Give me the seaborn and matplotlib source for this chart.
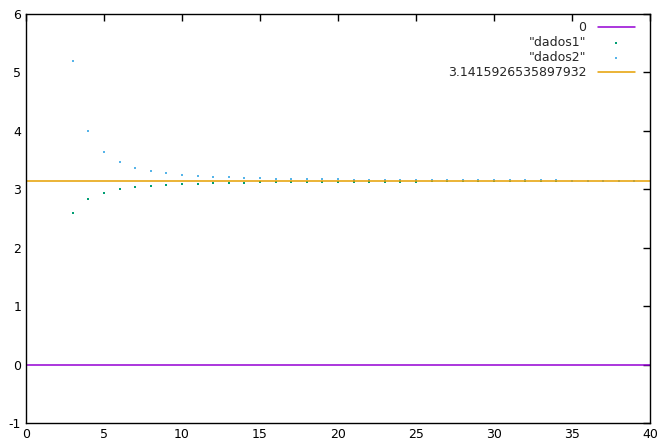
import matplotlib
matplotlib.use("Agg")
import matplotlib.pyplot as plt
import seaborn as sns
import pandas as pd

# polygon sides
n_lados = list(range(3, 40))
# "dados1" (inscribed) and "dados2" (circumscribed) values
dados1 = [2.598, 2.828, 2.939, 3.000, 3.037, 3.061, 3.078, 3.090, 3.099, 3.106,
          3.111, 3.115, 3.119, 3.121, 3.124, 3.126, 3.127, 3.129, 3.130, 3.131,
          3.132, 3.133, 3.133, 3.134, 3.135, 3.135, 3.135, 3.136, 3.136, 3.137,
          3.137, 3.137, 3.137, 3.138, 3.138, 3.138, 3.138]
dados2 = [5.196, 4.000, 3.633, 3.464, 3.371, 3.314, 3.276, 3.249, 3.230, 3.215,
          3.204, 3.195, 3.188, 3.183, 3.178, 3.174, 3.171, 3.168, 3.165, 3.163,
          3.161, 3.160, 3.158, 3.157, 3.156, 3.155, 3.154, 3.153, 3.152, 3.152,
          3.151, 3.151, 3.150, 3.150, 3.149, 3.149, 3.148]
pi_val = 3.1415926535897932
x_ticks = [0, 5, 10, 15, 20, 25, 30, 35, 40]
y_ticks = [-1, 0, 1, 2, 3, 4, 5, 6]

df = pd.DataFrame({"n": n_lados, "dados1": dados1, "dados2": dados2})

sns.set_style("white")
plt.rcParams["font.family"] = ["DejaVu Sans"]
plt.rcParams["axes.unicode_minus"] = False

fig = plt.figure(figsize=(6.58, 4.46), dpi=100)
ax = fig.add_axes([26 / 658, 23 / 446, 624 / 658, 409 / 446])

ax.axhline(0, color="#9400d3", lw=1.1, label="0")
sns.scatterplot(data=df, x="n", y="dados1", ax=ax, color="#009e73", marker="s",
                s=2.5, linewidth=0, label='"dados1"')
sns.scatterplot(data=df, x="n", y="dados2", ax=ax, color="#56b4e9", marker="s",
                s=2.5, linewidth=0, label='"dados2"')
ax.axhline(pi_val, color="#e69f00", lw=1.1, label="3.1415926535897932")

ax.set_xlim(0, 40)
ax.set_ylim(-1, 6)
ax.set_xticks(x_ticks)
ax.set_yticks(y_ticks)
ax.set_xlabel("")
ax.set_ylabel("")
ax.tick_params(direction="in", length=5, width=1, top=True, right=True,
               labelsize=9, colors="black")
for sp in ax.spines.values():
    sp.set_color("black")
    sp.set_linewidth(1)

leg = ax.legend(loc="upper right", bbox_to_anchor=(0.984, 0.994), frameon=False,
                markerfirst=False, fontsize=9, handlelength=3.0,
                labelspacing=0.15, borderaxespad=0, handletextpad=0.9)

fig.savefig("out.png", dpi=100)
